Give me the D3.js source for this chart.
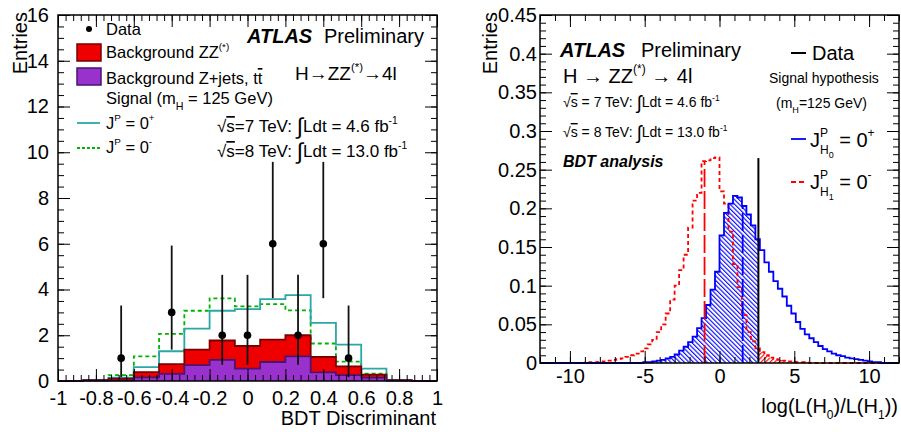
<!DOCTYPE html>
<html><head><meta charset="utf-8">
<script src="https://cdn.jsdelivr.net/npm/d3@7"></script>
<style>
body{margin:0;background:#fff}
svg{display:block;font-family:"Liberation Sans",Arial,Helvetica,sans-serif}
text{white-space:pre}
</style>
</head><body>
<svg id="c" width="901" height="432"></svg>
<script>
// ---------------- Left panel data (BDT discriminant) ----------------
const bdtBinCount = 15;
const bdtRange = [-1, 1];
const bkgZjets  = [0, 0.02, 0.03, 0.16, 0.31, 0.69, 0.92, 0.54, 0.83, 1.08, 0.38, 0.26, 0.15, 0.02, 0];
const bkgZZ     = [0, 0.02, 0.07, 0.23, 0.43, 0.68, 0.85, 0.99, 0.98, 0.92, 0.67, 0.38, 0.13, 0.02, 0];
const sig0plus  = [0, 0.01, 0.05, 0.22, 0.56, 0.92, 1.30, 1.61, 1.77, 1.75, 1.49, 0.95, 0.26, 0.00, 0];
const sig0minus = [0, 0.01, 0.16, 0.69, 1.32, 1.70, 1.84, 1.73, 1.55, 1.09, 0.59, 0.21, 0.04, 0.00, 0];
const dataCounts  = [0, 0, 1, 0, 3, 0, 2, 2, 6, 2, 6, 1, 0, 0, 0];
const dataErrLow  = [null, null, 0.17, null, 1.37, null, 0.71, 0.71, 3.62, 0.71, 3.62, 0.17, null, null, null];
const dataErrHigh = [null, null, 3.30, null, 5.92, null, 4.64, 4.64, 9.58, 4.64, 9.58, 3.30, null, null, null];
const bdtXTicks = [-1, -0.8, -0.6, -0.4, -0.2, 0, 0.2, 0.4, 0.6, 0.8, 1];
const bdtXTickLabels = ["-1", "-0.8", "-0.6", "-0.4", "-0.2", "0", "0.2", "0.4", "0.6", "0.8", "1"];
const bdtYTicks = [0, 2, 4, 6, 8, 10, 12, 14, 16];
const bdtYTickLabels = ["0", "2", "4", "6", "8", "10", "12", "14", "16"];

// ---------------- Right panel data (log-likelihood ratio) ----------------
const llrRange = [-12, 12];
const llrBinWidth = 0.3;
const llrH0 = [
  0,0,0,0,0,0,0,0,0,0,
  0,0,0,0,0,0,0,0,0,0,
  0,0,0,0.001,0.001,0.002,0.003,0.004,0.006,0.008,
  0.011,0.016,0.021,0.027,0.034,0.045,0.058,0.075,0.095,0.118,
  0.165,0.194,0.206,0.216,0.214,0.203,0.192,0.178,0.160,0.146,
  0.130,0.118,0.106,0.096,0.086,0.074,0.064,0.053,0.044,0.037,
  0.032,0.027,0.022,0.018,0.015,0.012,0.010,0.009,0.007,0.006,
  0.005,0.004,0.003,0.002,0.001,0.001,0,0,0,0];
const llrH1 = [
  0,0,0,0,0,0,0,0,0,0,
  0.0005,0.001,0.001,0.0015,0.002,0.003,0.004,0.005,0.006,0.008,
  0.010,0.012,0.015,0.019,0.024,0.030,0.040,0.050,0.064,0.082,
  0.100,0.120,0.140,0.175,0.210,0.220,0.261,0.262,0.265,0.266,
  0.222,0.206,0.170,0.128,0.098,0.062,0.040,0.028,0.019,0.014,
  0.010,0.007,0.005,0.004,0.003,0.002,0.0015,0.001,0.001,0.0005,
  0,0,0,0,0,0,0,0,0,0,
  0,0,0,0,0,0,0,0,0,0];
const llrH0Median = 1.55;
const llrH1Median = -1.0;
const llrData = 2.6;
const llrDataTop = 0.265;
const llrXTicks = [-10, -5, 0, 5, 10];
const llrXTickLabels = ["-10", "-5", "0", "5", "10"];
const llrYTicks = [0, 0.05, 0.1, 0.15, 0.2, 0.25, 0.3, 0.35, 0.4, 0.45];
const llrYTickLabels = ["0", "0.05", "0.1", "0.15", "0.2", "0.25", "0.3", "0.35", "0.4", "0.45"];

// ---------------- Styles ----------------
const FONT = '"Liberation Sans", Arial, Helvetica, sans-serif';
const C = {
  zz: "#ee0000", zzLine: "#7a0000",
  zj: "#9932cc", zjLine: "#4a1470",
  s0p: "#2aa7a7", s0m: "#00b400",
  h0: "#0000ff", h1: "#ff0000"
};

const svg = d3.select("#c");
svg.append("rect").attr("width", 901).attr("height", 432).attr("fill", "#fff");

const defs = svg.append("defs");
function hatch(id, color, angle) {
  const p = defs.append("pattern").attr("id", id).attr("patternUnits", "userSpaceOnUse")
    .attr("width", 3.2).attr("height", 3.2).attr("patternTransform", `rotate(${angle})`);
  p.append("line").attr("x1", 0.6).attr("y1", 0).attr("x2", 0.6).attr("y2", 3.2)
    .attr("stroke", color).attr("stroke-width", 1.1);
}
hatch("hatchBlue", C.h0, -45);
hatch("hatchRed", C.h1, 45);

function rich(parent, x, y, parts, base, anchorEnd) {
  const g = parent.append("g");
  let cx = 0;
  parts.forEach(p => {
    const t = g.append("text")
      .attr("x", cx).attr("y", p.dy || 0)
      .attr("font-size", base * (p.s || 1))
      .attr("font-family", FONT)
      .attr("fill", "#000")
      .text(p.t);
    if (p.b) t.attr("font-weight", "bold");
    if (p.i) t.attr("font-style", "italic");
    if (p.o) t.attr("text-decoration", "overline");
    const w = t.node().getComputedTextLength();
    if (!p.n) cx += w + (p.gap || 0);
  });
  g.attr("transform", `translate(${anchorEnd ? x - cx : x},${y})`);
  return cx;
}

function drawAxes(g, x, y, cfg) {
  const [x0, x1] = x.range(), [y0, y1] = y.range();
  const add = (axisGen, tx, ty, vals, len, labels, pad) => {
    const a = axisGen.tickValues(vals).tickSize(-len).tickPadding(pad || 0)
      .tickFormat(labels ? (d, i) => labels[i] : () => "");
    const gg = g.append("g").attr("transform", `translate(${tx},${ty})`).call(a);
    gg.select(".domain").remove();
    gg.selectAll("line").attr("stroke", "#000").attr("stroke-width", 1);
    gg.selectAll("text").attr("font-size", cfg.tickFont).attr("font-family", FONT).attr("fill", "#000");
  };
  add(d3.axisBottom(x), 0, y0, cfg.xMinor, cfg.minorLen);
  add(d3.axisBottom(x), 0, y0, cfg.xMajor, cfg.majorLen, cfg.xLabels, cfg.xPad);
  add(d3.axisTop(x), 0, y1, cfg.xMinor, cfg.minorLen);
  add(d3.axisTop(x), 0, y1, cfg.xMajor, cfg.majorLen);
  add(d3.axisLeft(y), x0, 0, cfg.yMinor, cfg.minorLen);
  add(d3.axisLeft(y), x0, 0, cfg.yMajor, cfg.majorLen, cfg.yLabels, cfg.yPad);
  add(d3.axisRight(y), x1, 0, cfg.yMinor, cfg.minorLen);
  add(d3.axisRight(y), x1, 0, cfg.yMajor, cfg.majorLen);
  g.append("rect").attr("x", x0).attr("y", y1).attr("width", x1 - x0).attr("height", y0 - y1)
    .attr("fill", "none").attr("stroke", "#000").attr("stroke-width", 1.5);
}

function stepPts(edges, vals) {
  const pts = [];
  vals.forEach((v, i) => { pts.push([edges[i], v]); pts.push([edges[i + 1], v]); });
  return pts;
}

// ================= LEFT PANEL =================
const xL = d3.scaleLinear().domain(bdtRange).range([58, 437]);
const yL = d3.scaleLinear().domain([0, 16]).range([381, 15]);
const gL = svg.append("g");
const bdtEdges = d3.range(bdtBinCount + 1).map(i => bdtRange[0] + i * (bdtRange[1] - bdtRange[0]) / bdtBinCount);
const bkgTotal = bkgZZ.map((v, i) => v + bkgZjets[i]);
const tot0p = sig0plus.map((v, i) => v + bkgTotal[i]);
const tot0m = sig0minus.map((v, i) => v + bkgTotal[i]);

const lineL = d3.line().x(d => xL(d[0])).y(d => yL(d[1]));
const areaL = d3.area().x(d => xL(d[0])).y0(yL(0)).y1(d => yL(d[1]));

gL.append("path").attr("d", lineL(stepPts(bdtEdges, tot0m))).attr("fill", "none")
  .attr("stroke", C.s0m).attr("stroke-width", 1.8).attr("stroke-dasharray", "4,3");
gL.append("path").attr("d", lineL(stepPts(bdtEdges, tot0p))).attr("fill", "none")
  .attr("stroke", C.s0p).attr("stroke-width", 1.8);

gL.append("path").attr("d", areaL(stepPts(bdtEdges, bkgTotal))).attr("fill", C.zz);
gL.append("path").attr("d", lineL(stepPts(bdtEdges, bkgTotal))).attr("fill", "none")
  .attr("stroke", C.zzLine).attr("stroke-width", 1.8);
gL.append("path").attr("d", areaL(stepPts(bdtEdges, bkgZjets))).attr("fill", C.zj);
gL.append("path").attr("d", lineL(stepPts(bdtEdges, bkgZjets))).attr("fill", "none")
  .attr("stroke", C.zjLine).attr("stroke-width", 1.8);

drawAxes(gL, xL, yL, {
  xMajor: bdtXTicks, xLabels: bdtXTickLabels, xMinor: d3.range(51).map(i => -1 + i * 0.04),
  yMajor: bdtYTicks, yLabels: bdtYTickLabels, yMinor: d3.range(33).map(i => i * 0.5),
  majorLen: 12, minorLen: 6, tickFont: 20, xPad: 10, yPad: 9
});

// data points
const pts = dataCounts.map((n, i) => ({ n, i, lo: dataErrLow[i], hi: dataErrHigh[i],
  x: (bdtEdges[i] + bdtEdges[i + 1]) / 2 })).filter(d => d.n > 0);
gL.selectAll(".eb").data(pts).join("line")
  .attr("x1", d => xL(d.x)).attr("x2", d => xL(d.x))
  .attr("y1", d => yL(d.lo)).attr("y2", d => yL(d.hi))
  .attr("stroke", "#111").attr("stroke-width", 1.8);
gL.selectAll(".pt").data(pts).join("circle")
  .attr("cx", d => xL(d.x)).attr("cy", d => yL(d.n)).attr("r", 3.8).attr("fill", "#000");

// left legend
gL.append("circle").attr("cx", 89).attr("cy", 29).attr("r", 3).attr("fill", "#000");
rich(gL, 106, 35, [{ t: "Data" }], 16.5);
gL.append("rect").attr("x", 77).attr("y", 44).attr("width", 24).attr("height", 17)
  .attr("fill", C.zz).attr("stroke", C.zzLine).attr("stroke-width", 1.5);
rich(gL, 106, 58, [{ t: "Background ZZ" }, { t: "(*)", s: 0.6, dy: -8 }], 16.5);
gL.append("rect").attr("x", 77).attr("y", 68).attr("width", 24).attr("height", 17)
  .attr("fill", C.zj).attr("stroke", C.zjLine).attr("stroke-width", 1.5);
rich(gL, 106, 84, [{ t: "Background Z+jets, t" }, { t: "t", o: 1 }], 16.5);
rich(gL, 106, 104, [{ t: "Signal (m" }, { t: "H", s: 0.65, dy: 6 }, { t: " = 125 GeV)" }], 16.5);
gL.append("line").attr("x1", 77).attr("x2", 100).attr("y1", 123).attr("y2", 123)
  .attr("stroke", C.s0p).attr("stroke-width", 1.8);
rich(gL, 106, 129, [{ t: "J" }, { t: "P", s: 0.6, dy: -8 }, { t: " = 0" }, { t: "+", s: 0.6, dy: -8 }], 16.5);
gL.append("line").attr("x1", 77).attr("x2", 100).attr("y1", 148).attr("y2", 148)
  .attr("stroke", C.s0m).attr("stroke-width", 1.8).attr("stroke-dasharray", "3,2");
rich(gL, 106, 153, [{ t: "J" }, { t: "P", s: 0.6, dy: -8 }, { t: " = 0" }, { t: "-", s: 0.6, dy: -8 }], 16.5);

rich(gL, 247, 43, [{ t: "ATLAS", b: 1, i: 1 }], 20);
rich(gL, 324, 43, [{ t: "Preliminary" }], 20);
rich(gL, 295, 80, [{ t: "H→ZZ" }, { t: "(*)", s: 0.6, dy: -9 }, { t: "→4l" }], 19);
rich(gL, 217, 132, [{ t: "√" }, { t: "s", o: 1 }, { t: "=7 TeV: " }, { t: "∫", s: 1.35, dy: 2 },
  { t: "Ldt = 4.6 fb" }, { t: "-1", s: 0.6, dy: -8 }], 17);
rich(gL, 217, 157, [{ t: "√" }, { t: "s", o: 1 }, { t: "=8 TeV: " }, { t: "∫", s: 1.35, dy: 2 },
  { t: "Ldt = 13.0 fb" }, { t: "-1", s: 0.6, dy: -8 }], 17);

gL.append("text").attr("transform", "translate(27,12) rotate(-90)").attr("text-anchor", "end")
  .attr("font-size", 20).attr("font-family", FONT).text("Entries");
gL.append("text").attr("x", 436).attr("y", 425).attr("text-anchor", "end")
  .attr("font-size", 20).attr("font-family", FONT).text("BDT Discriminant");

// ================= RIGHT PANEL =================
const xR = d3.scaleLinear().domain(llrRange).range([540, 899]);
const yR = d3.scaleLinear().domain([0, 0.45]).range([363, 15]);
const gR = svg.append("g");
const llrEdges = d3.range(llrH0.length + 1).map(i => llrRange[0] + i * llrBinWidth);
const lineR = d3.line().x(d => xR(d[0])).y(d => yR(d[1]));
const areaR = d3.area().x(d => xR(d[0])).y0(yR(0)).y1(d => yR(d[1]));

defs.append("clipPath").attr("id", "clipLeftOfData").append("rect")
  .attr("x", xR(llrRange[0])).attr("y", yR(0.45)).attr("width", xR(llrData) - xR(llrRange[0]))
  .attr("height", yR(0) - yR(0.45));
defs.append("clipPath").attr("id", "clipRightOfData").append("rect")
  .attr("x", xR(llrData)).attr("y", yR(0.45)).attr("width", xR(llrRange[1]) - xR(llrData))
  .attr("height", yR(0) - yR(0.45));

gR.append("path").attr("d", areaR(stepPts(llrEdges, llrH0))).attr("fill", "url(#hatchBlue)")
  .attr("clip-path", "url(#clipLeftOfData)");
gR.append("path").attr("d", areaR(stepPts(llrEdges, llrH1))).attr("fill", "url(#hatchRed)")
  .attr("clip-path", "url(#clipRightOfData)");
gR.append("path").attr("d", lineR(stepPts(llrEdges, llrH1))).attr("fill", "none")
  .attr("stroke", C.h1).attr("stroke-width", 1.8).attr("stroke-dasharray", "4,3");
gR.append("path").attr("d", lineR(stepPts(llrEdges, llrH0))).attr("fill", "none")
  .attr("stroke", C.h0).attr("stroke-width", 1.8);

const binOf = v => Math.min(llrH0.length - 1, Math.floor((v - llrRange[0]) / llrBinWidth));
gR.append("line").attr("x1", xR(llrH1Median)).attr("x2", xR(llrH1Median))
  .attr("y1", yR(0)).attr("y2", yR(llrH1[binOf(llrH1Median)]))
  .attr("stroke", C.h1).attr("stroke-width", 1.8).attr("stroke-dasharray", "18,4");
gR.append("line").attr("x1", xR(llrH0Median)).attr("x2", xR(llrH0Median))
  .attr("y1", yR(0)).attr("y2", yR(llrH0[binOf(llrH0Median)]))
  .attr("stroke", C.h0).attr("stroke-width", 1.8).attr("stroke-dasharray", "18,4");
gR.append("line").attr("x1", xR(llrData)).attr("x2", xR(llrData))
  .attr("y1", yR(0)).attr("y2", yR(llrDataTop)).attr("stroke", "#000").attr("stroke-width", 2);

drawAxes(gR, xR, yR, {
  xMajor: llrXTicks, xLabels: llrXTickLabels, xMinor: d3.range(-12, 13, 1),
  yMajor: llrYTicks, yLabels: llrYTickLabels, yMinor: d3.range(46).map(i => i * 0.01),
  majorLen: 12, minorLen: 6, tickFont: 20, xPad: 6, yPad: 3
});

rich(gR, 560, 57, [{ t: "ATLAS", b: 1, i: 1 }], 20);
rich(gR, 641, 57, [{ t: "Preliminary" }], 20);
rich(gR, 563, 83, [{ t: "H → ZZ" }, { t: "(*)", s: 0.6, dy: -10 }, { t: " → 4l" }], 20);
rich(gR, 563, 107, [{ t: "√" }, { t: "s", o: 1 }, { t: " = 7 TeV: " }, { t: "∫", s: 1.35, dy: 2 },
  { t: "Ldt = 4.6 fb" }, { t: "-1", s: 0.6, dy: -6 }], 14);
rich(gR, 563, 137, [{ t: "√" }, { t: "s", o: 1 }, { t: " = 8 TeV: " }, { t: "∫", s: 1.35, dy: 2 },
  { t: "Ldt = 13.0 fb" }, { t: "-1", s: 0.6, dy: -6 }], 14);
rich(gR, 563, 167, [{ t: "BDT analysis", b: 1, i: 1 }], 16);

gR.append("line").attr("x1", 791).attr("x2", 806).attr("y1", 53).attr("y2", 53)
  .attr("stroke", "#000").attr("stroke-width", 2);
rich(gR, 812, 60, [{ t: "Data" }], 20);
rich(gR, 769, 83, [{ t: "Signal hypothesis" }], 14);
rich(gR, 776, 108, [{ t: "(m" }, { t: "H", s: 0.65, dy: 5 }, { t: "=125 GeV)" }], 14);
gR.append("line").attr("x1", 791).attr("x2", 806).attr("y1", 139).attr("y2", 139)
  .attr("stroke", C.h0).attr("stroke-width", 1.8);
rich(gR, 810, 147, [{ t: "J" }, { t: "P", s: 0.6, dy: -10, n: 1 }, { t: "H", s: 0.6, dy: 7 },
  { t: "0", s: 0.45, dy: 11 }, { t: " = 0" }, { t: "+", s: 0.6, dy: -10 }], 20);
gR.append("line").attr("x1", 791).attr("x2", 806).attr("y1", 182).attr("y2", 182)
  .attr("stroke", C.h1).attr("stroke-width", 1.8).attr("stroke-dasharray", "5,3");
rich(gR, 810, 189, [{ t: "J" }, { t: "P", s: 0.6, dy: -10, n: 1 }, { t: "H", s: 0.6, dy: 7 },
  { t: "1", s: 0.45, dy: 11 }, { t: " = 0" }, { t: "-", s: 0.6, dy: -10 }], 20);

gR.append("text").attr("transform", "translate(497,12) rotate(-90)").attr("text-anchor", "end")
  .attr("font-size", 20).attr("font-family", FONT).text("Entries");
rich(gR, 898, 413, [{ t: "log(L(H" }, { t: "0", s: 0.6, dy: 6 }, { t: ")/L(H" }, { t: "1", s: 0.6, dy: 6 }, { t: "))" }], 20, true);
</script>
</body></html>
